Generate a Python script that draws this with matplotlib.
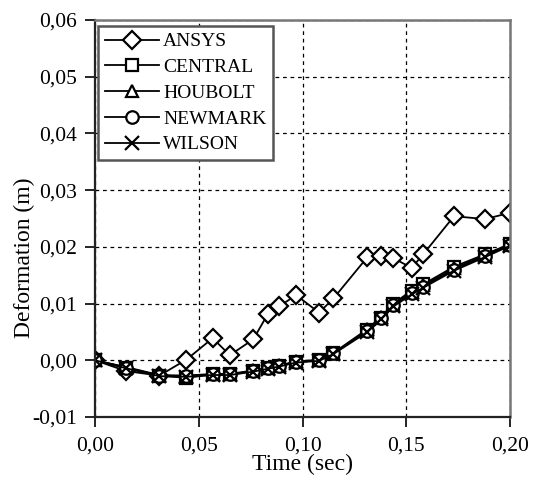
import numpy as np
import matplotlib.pyplot as plt
from matplotlib.ticker import FuncFormatter, MultipleLocator

plt.rcParams['font.family'] = ['Liberation Serif', 'DejaVu Serif']

# time steps (sec)
time = [0.0, 0.015, 0.031, 0.044, 0.0567, 0.065, 0.0763, 0.0832, 0.0888, 0.0969,
        0.108, 0.1149, 0.1313, 0.1378, 0.1438, 0.1526, 0.1582, 0.173, 0.188, 0.200]

ansys = [0.0, -0.0019, -0.0027, 0.0001, 0.0039, 0.0009, 0.0037, 0.0081, 0.0095, 0.0115,
         0.0084, 0.0109, 0.0182, 0.0184, 0.0180, 0.0163, 0.0187, 0.0254, 0.0249, 0.0260]
central = [0.0, -0.0013, -0.0027, -0.0031, -0.0025, -0.0025, -0.0019, -0.0014, -0.0010, -0.0003,
           0.0000, 0.0012, 0.0053, 0.0075, 0.0100, 0.0123, 0.0134, 0.0165, 0.0187, 0.0205]
houbolt = [0.0, -0.0012, -0.0026, -0.0027, -0.0024, -0.0024, -0.0018, -0.0013, -0.0009, -0.0002,
           0.0001, 0.0013, 0.0055, 0.0077, 0.0098, 0.0120, 0.0132, 0.0162, 0.0185, 0.0204]
newmark = [0.0, -0.0013, -0.0027, -0.0028, -0.0025, -0.0025, -0.0019, -0.0014, -0.0010, -0.0003,
           0.0000, 0.0012, 0.0052, 0.0074, 0.0097, 0.0118, 0.0130, 0.0160, 0.0184, 0.0203]
wilson = [0.0, -0.0014, -0.0028, -0.0029, -0.0026, -0.0026, -0.0020, -0.0015, -0.0011, -0.0004,
          -0.0001, 0.0011, 0.0050, 0.0072, 0.0095, 0.0116, 0.0128, 0.0158, 0.0182, 0.0202]

series = [('ANSYS', ansys, 'D', 9), ('CENTRAL', central, 's', 9),
          ('HOUBOLT', houbolt, '^', 9), ('NEWMARK', newmark, 'o', 9),
          ('WILSON', wilson, 'x', 10)]

fig = plt.figure(figsize=(5.38, 4.84), dpi=100)
ax = fig.add_axes([95/538, 1 - 417/484, (510 - 95)/538, (417 - 20)/484])

for name, vals, mk, ms in series:
    ax.plot(time, vals, color='black', lw=1.3, marker=mk, markersize=ms,
            markerfacecolor='white', markeredgecolor='black', markeredgewidth=1.6,
            label=name)

ax.set_xlim(0, 0.20)
ax.set_ylim(-0.01, 0.06)
ax.xaxis.set_major_locator(MultipleLocator(0.05))
ax.yaxis.set_major_locator(MultipleLocator(0.01))
comma = FuncFormatter(lambda v, p: f'{v:.2f}'.replace('.', ','))
ax.xaxis.set_major_formatter(comma)
ax.yaxis.set_major_formatter(comma)
ax.tick_params(direction='out', length=7, width=1.2, labelsize=15.5, colors='black')
ax.tick_params(axis='x', pad=7)
ax.tick_params(axis='y', pad=6)

ax.grid(True, color='black', linestyle=(0, (3, 3)), linewidth=0.9)
for s in ['top', 'right']:
    ax.spines[s].set_color('#777777')
    ax.spines[s].set_linewidth(1.8)
for s in ['left', 'bottom']:
    ax.spines[s].set_color('#222222')
    ax.spines[s].set_linewidth(1.6)

ax.set_xlabel('Time (sec)', fontsize=17)
ax.xaxis.set_label_coords(0.5, -0.093)
ax.set_ylabel('Deformation (m)', fontsize=17)
ax.yaxis.set_label_coords(-0.145, 0.40)

leg = ax.legend(loc='upper left', bbox_to_anchor=(0.007, 0.985), fontsize=14,
                handlelength=2.8, handletextpad=0.2, borderpad=0.35,
                labelspacing=0.42, fancybox=False, framealpha=1, borderaxespad=0)
leg.get_frame().set_edgecolor('#555555')
leg.get_frame().set_linewidth(1.8)

fig.savefig('out.png', dpi=100)
